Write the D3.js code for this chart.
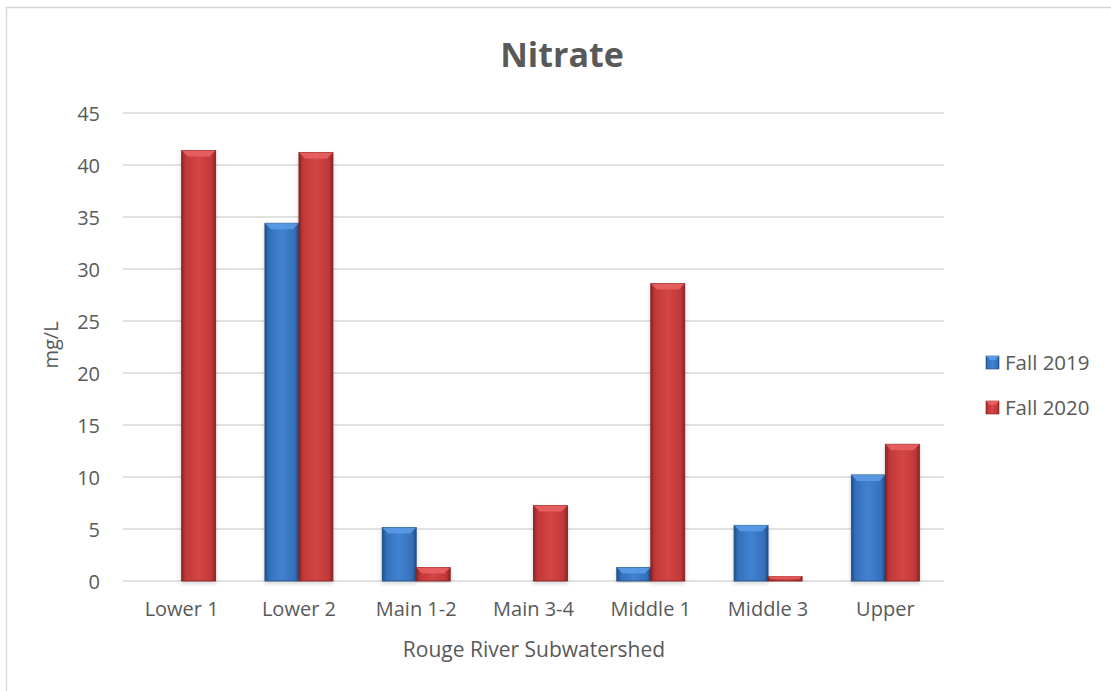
<!DOCTYPE html>
<html>
<head>
<meta charset="utf-8">
<script src="https://cdn.jsdelivr.net/npm/d3@7"></script>
<style>
  html, body { margin: 0; padding: 0; background: #fff; }
  svg { display: block; font-family: "Open Sans", "Noto Sans", sans-serif; }
</style>
</head>
<body>
<svg id="chart" width="1111" height="691"></svg>
<script>
const categories = ["Lower 1", "Lower 2", "Main 1-2", "Main 3-4", "Middle 1", "Middle 3", "Upper"];
const seriesNames = ["Fall 2019", "Fall 2020"];
const fall2019 = [0, 34.4, 5.15, 0, 1.3, 5.35, 10.2];
const fall2020 = [41.4, 41.2, 1.3, 7.25, 28.6, 0.45, 13.15];
const yTicks = [0, 5, 10, 15, 20, 25, 30, 35, 40, 45];
const chartTitle = "Nitrate";
const xTitle = "Rouge River Subwatershed";
const yTitle = "mg/L";

const svg = d3.select("#chart");
const W = 1111, H = 691;
const plot = { left: 123, right: 944, top: 113, bottom: 581 };
const textColor = "#595959";

const defs = svg.append("defs");
function barGradient(id, dark, mid, light) {
  const g = defs.append("linearGradient").attr("id", id).attr("x1", "0").attr("x2", "1").attr("y1", "0").attr("y2", "0");
  g.append("stop").attr("offset", "0%").attr("stop-color", dark);
  g.append("stop").attr("offset", "12%").attr("stop-color", mid);
  g.append("stop").attr("offset", "50%").attr("stop-color", light);
  g.append("stop").attr("offset", "88%").attr("stop-color", mid);
  g.append("stop").attr("offset", "100%").attr("stop-color", dark);
}
barGradient("gBlue", "#234f86", "#3370bb", "#4282d0");
barGradient("gRed", "#8e2424", "#c03838", "#d54545");
const f = defs.append("filter").attr("id", "shadow").attr("x", "-20%").attr("y", "-5%").attr("width", "140%").attr("height", "115%");
f.append("feDropShadow").attr("dx", 0).attr("dy", 2).attr("stdDeviation", 2).attr("flood-color", "#000").attr("flood-opacity", 0.18);

// chart frame
svg.append("rect").attr("x", 6.5).attr("y", 7.5).attr("width", W + 20).attr("height", H + 20)
  .attr("fill", "#fff").attr("stroke", "#d9d9d9").attr("stroke-width", 1.5);

const x0 = d3.scaleBand().domain(categories).range([plot.left, plot.right]).paddingInner(0.42).paddingOuter(0.21);
const x1 = d3.scaleBand().domain(seriesNames).range([0, x0.bandwidth()]);
const y = d3.scaleLinear().domain([0, 45]).range([plot.bottom, plot.top]);

// gridlines
svg.append("g").selectAll("line").data(yTicks).join("line")
  .attr("x1", plot.left).attr("x2", plot.right)
  .attr("y1", d => y(d)).attr("y2", d => y(d))
  .attr("stroke", "#d9d9d9").attr("stroke-width", 1.3);

// y tick labels
const yAxis = d3.axisLeft(y).tickValues(yTicks).tickSize(0).tickPadding(0);
const yg = svg.append("g").attr("transform", `translate(${plot.left - 23},0)`).call(yAxis);
yg.select(".domain").remove();
yg.selectAll("text").attr("font-size", 20).attr("fill", textColor)
  .attr("font-family", "'Open Sans', sans-serif").attr("dy", "0.35em");

// bars
const series = [
  { name: seriesNames[0], values: fall2019, fill: "url(#gBlue)", bevel: "#5a9be6", edge: "#1f4a80" },
  { name: seriesNames[1], values: fall2020, fill: "url(#gRed)", bevel: "#e86060", edge: "#7d1f1f" }
];
const barG = svg.append("g");
series.forEach(s => {
  categories.forEach((c, i) => {
    const v = s.values[i];
    if (!v) return;
    const bx = x0(c) + x1(s.name);
    const bw = x1.bandwidth();
    const by = y(v);
    const bh = y(0) - by;
    const g = barG.append("g");
    g.append("rect").attr("x", bx).attr("y", by).attr("width", bw).attr("height", bh)
      .attr("fill", s.fill).attr("stroke", s.edge).attr("stroke-width", 0.8).attr("filter", "url(#shadow)");
    const bev = Math.min(6, bh / 2);
    g.append("path")
      .attr("d", `M${bx},${by}L${bx + bw},${by}L${bx + bw - bev},${by + bev}L${bx + bev},${by + bev}Z`)
      .attr("fill", s.bevel).attr("opacity", 0.9);
  });
});

// x labels
const xAxis = d3.axisBottom(x0).tickSize(0).tickPadding(0);
const xg = svg.append("g").attr("transform", `translate(0,${plot.bottom})`).call(xAxis);
xg.select(".domain").remove();
xg.selectAll("text").attr("font-size", 20).attr("fill", textColor)
  .attr("font-family", "'Open Sans', sans-serif").attr("y", 35).attr("dy", 0);

// title
svg.append("text").attr("x", 562).attr("y", 67).attr("text-anchor", "middle")
  .attr("font-size", 34).attr("font-weight", "bold").attr("fill", textColor).text(chartTitle);

// axis titles
svg.append("text").attr("x", 534).attr("y", 657).attr("text-anchor", "middle")
  .attr("font-size", 21).attr("fill", textColor).text(xTitle);
svg.append("text").attr("transform", "translate(58,345) rotate(-90)").attr("text-anchor", "middle")
  .attr("font-size", 20).attr("fill", textColor).text(yTitle);

// legend
const leg = svg.append("g");
series.forEach((s, i) => {
  const ly = 363 + i * 45;
  leg.append("rect").attr("x", 986).attr("y", ly - 7).attr("width", 13).attr("height", 13)
    .attr("fill", s.fill).attr("stroke", s.edge).attr("stroke-width", 0.6);
  leg.append("path").attr("d", `M986,${ly - 7}L999,${ly - 7}L995,${ly - 3}L990,${ly - 3}Z`).attr("fill", s.bevel);
  leg.append("text").attr("x", 1005).attr("y", ly).attr("dy", "0.35em")
    .attr("font-size", 20.5).attr("fill", textColor).text(s.name);
});
</script>
</body>
</html>
